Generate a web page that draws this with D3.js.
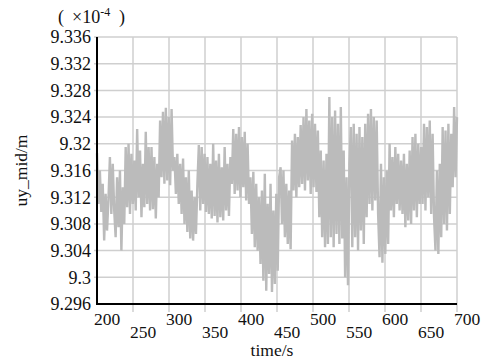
<!DOCTYPE html>
<html>
<head>
<meta charset="utf-8">
<script src="https://cdn.jsdelivr.net/npm/d3@7"></script>
<style>
  body { margin: 0; background: #fff; }
</style>
</head>
<body>
<svg id="chart" width="484" height="361" fill="#111"></svg>
<script>
// uy_mid readings (x1e-4 m), evenly sampled from 200 s to 700 s
const uyValues = [
  9.3186, 9.3110, 9.3160, 9.3098, 9.3140,
  9.3055, 9.3125, 9.3070, 9.3118,
  9.3180, 9.3095, 9.3170, 9.3100,
  9.3060, 9.3150, 9.3075,
  9.3160, 9.3040, 9.3135, 9.3080,
  9.3195, 9.3105, 9.3200, 9.3095, 9.3185,
  9.3110, 9.3175, 9.3100, 9.3222, 9.3120, 9.3190,
  9.3090, 9.3170, 9.3105,
  9.3218, 9.3110, 9.3195, 9.3100,
  9.3195, 9.3102, 9.3180, 9.3088, 9.3170,
  9.3120, 9.3235, 9.3150, 9.3248, 9.3140, 9.3254, 9.3145, 9.3240, 9.3138, 9.3252, 9.3160,
  9.3180, 9.3125, 9.3185, 9.3110, 9.3170, 9.3095, 9.3178, 9.3080, 9.3150, 9.3068, 9.3160, 9.3058, 9.3130,
  9.3055, 9.3120, 9.3065, 9.3140,
  9.3198, 9.3100, 9.3195, 9.3110, 9.3185, 9.3098,
  9.3180, 9.3095, 9.3170, 9.3088, 9.3200, 9.3092, 9.3175, 9.3082, 9.3185, 9.3090, 9.3165, 9.3085, 9.3195, 9.3100, 9.3170, 9.3092, 9.3180,
  9.3140, 9.3222, 9.3125, 9.3215, 9.3130, 9.3225, 9.3120, 9.3210, 9.3135, 9.3218, 9.3115, 9.3200, 9.3110,
  9.3150, 9.3065, 9.3158, 9.3045, 9.3140, 9.3040, 9.3120,
  9.3020, 9.3130, 9.2995, 9.3155, 9.2980, 9.3110, 9.3005, 9.3140, 9.2978, 9.3100, 9.2990, 9.3125, 9.3010, 9.3150,
  9.3165, 9.3080, 9.3160, 9.3060, 9.3140, 9.3050, 9.3130, 9.3042,
  9.3205, 9.3130, 9.3215, 9.3120, 9.3210, 9.3135, 9.3228,
  9.3140, 9.3240, 9.3130, 9.3252, 9.3145, 9.3235, 9.3125, 9.3245, 9.3135, 9.3230, 9.3128, 9.3220,
  9.3090, 9.3190, 9.3060, 9.3175, 9.3045, 9.3185, 9.3050,
  9.3270, 9.3060, 9.3240, 9.3045, 9.3250, 9.3065, 9.3230, 9.3050,
  9.3255, 9.3058, 9.3190, 9.3000, 9.3150, 9.2988, 9.3170,
  9.3225, 9.3045, 9.3230, 9.3060, 9.3215, 9.3040, 9.3225, 9.3070, 9.3210, 9.3050, 9.3230, 9.3090,
  9.3245, 9.3110, 9.3252, 9.3100, 9.3240, 9.3115, 9.3235, 9.3095,
  9.3030, 9.3170, 9.3022, 9.3150, 9.3035, 9.3160, 9.3050,
  9.3200, 9.3100, 9.3180, 9.3090, 9.3195, 9.3110, 9.3185, 9.3100,
  9.3175, 9.3095, 9.3185, 9.3075, 9.3170, 9.3085, 9.3190, 9.3080,
  9.3210, 9.3100, 9.3215, 9.3090, 9.3200, 9.3110, 9.3195,
  9.3110, 9.3230, 9.3100, 9.3225, 9.3120, 9.3235, 9.3095, 9.3215, 9.3090,
  9.3040, 9.3160, 9.3035, 9.3170, 9.3060,
  9.3225, 9.3080, 9.3220, 9.3070, 9.3230, 9.3095, 9.3215,
  9.3135, 9.3255, 9.3150, 9.3240
];
const timeStart = 200, timeEnd = 700;
const xTicks = [200, 250, 300, 350, 400, 450, 500, 550, 600, 650, 700];
const yTicks = [9.296, 9.300, 9.304, 9.308, 9.312, 9.316, 9.320, 9.324, 9.328, 9.332, 9.336];
const yTickLabels = ["9.296", "9.3", "9.304", "9.308", "9.312", "9.316", "9.32", "9.324", "9.328", "9.332", "9.336"];

const serif = "Liberation Serif";

const svg = d3.select("#chart");
const margin = { left: 97, right: 27, top: 37, bottom: 57 };
const width = +svg.attr("width"), height = +svg.attr("height");

const n = uyValues.length;
const times = uyValues.map((v, i) => timeStart + i * (timeEnd - timeStart) / (n - 1));

let x = d3.scaleLinear().domain([200, 700]).range([margin.left, width - margin.right]);
let y = d3.scaleLinear().domain([9.296, 9.336]).range([height - margin.bottom, margin.top]);

// grid
let grid = svg.append("g").attr("stroke", "#cfcfcf").attr("stroke-width", 1.5);
grid.selectAll("line.vx")
    .data(xTicks.slice(1))
    .enter().append("line")
    .attr("x1", d => x(d)).attr("x2", d => x(d))
    .attr("y1", y(9.336)).attr("y2", y(9.296) + 8);
grid.selectAll("line.hy")
    .data(yTicks.slice(1))
    .enter().append("line")
    .attr("x1", x(200) - 3).attr("x2", x(700))
    .attr("y1", d => y(d)).attr("y2", d => y(d));

// series
let line = d3.line()
    .x((d, i) => x(times[i]))
    .y(d => y(d));

svg.append("path")
    .datum(uyValues)
    .attr("fill", "none")
    .attr("stroke", "#bbbbbb")
    .attr("stroke-width", 2.4)
    .attr("stroke-linejoin", "miter")
    .attr("d", line);

// axes lines
svg.append("line")
    .attr("x1", x(200)).attr("x2", x(200))
    .attr("y1", y(9.336)).attr("y2", y(9.296) + 1)
    .attr("stroke", "#000").attr("stroke-width", 2);
svg.append("line")
    .attr("x1", x(200) - 1).attr("x2", x(700))
    .attr("y1", y(9.296)).attr("y2", y(9.296))
    .attr("stroke", "#000").attr("stroke-width", 2);

// y tick labels
svg.selectAll("text.ylab")
    .data(yTicks)
    .enter().append("text")
    .attr("x", x(200) - 6)
    .attr("y", d => y(d))
    .attr("dy", "0.35em")
    .attr("text-anchor", "end")
    .attr("font-family", serif)
    .attr("font-size", 18)
    .text((d, i) => yTickLabels[i]);

// x tick labels, staggered
svg.selectAll("text.xlab")
    .data(xTicks)
    .enter().append("text")
    .attr("x", d => x(d) + 10)
    .attr("y", (d, i) => i % 2 === 0 ? 325 : 338)
    .attr("text-anchor", "middle")
    .attr("font-family", serif)
    .attr("font-size", 17.5)
    .text(d => d);

svg.append("text")
    .attr("x", 272).attr("y", 356)
    .attr("text-anchor", "middle")
    .attr("font-family", serif)
    .attr("font-size", 17.5)
    .text("time/s");

svg.append("text")
    .attr("transform", "translate(21," + ((y(9.296) + y(9.336)) / 2) + ") rotate(-90)")
    .attr("text-anchor", "middle")
    .attr("dy", "0.35em")
    .attr("font-family", serif)
    .attr("font-size", 17.5)
    .text("uy_mid/m");

let unit = svg.append("text")
    .attr("y", 23)
    .attr("font-family", serif)
    .attr("font-size", 18);
unit.append("tspan").attr("x", 58).text("(");
unit.append("tspan").attr("x", 72).text("×10");
unit.append("tspan").attr("dy", -7).attr("font-size", 12).text("-4");
unit.append("tspan").attr("x", 119).attr("dy", 7).text(")");
</script>
</body>
</html>
